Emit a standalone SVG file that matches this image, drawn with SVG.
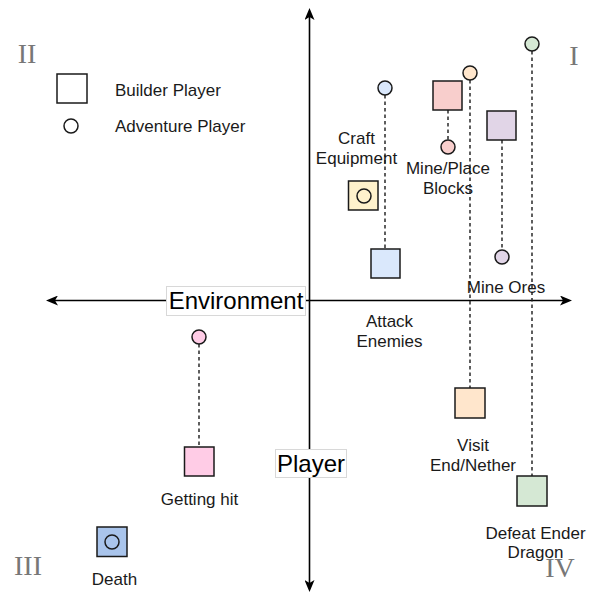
<svg xmlns="http://www.w3.org/2000/svg" width="591" height="594" viewBox="0 0 591 594">
<style>
.lbl{font-family:"Liberation Sans",Arial,Helvetica,sans-serif;font-size:17px;fill:#1a1a1a;text-anchor:middle}
.leg{font-family:"Liberation Sans",Arial,Helvetica,sans-serif;font-size:17px;fill:#1a1a1a}
.axl{font-family:"Liberation Sans",Arial,Helvetica,sans-serif;font-size:24px;fill:#000;text-anchor:middle}
.rom{font-family:"Liberation Serif","Times New Roman",serif;font-size:28px;fill:#777;text-anchor:middle}
.nd{stroke:#1a1a1a;stroke-width:1.5}
.dash{stroke:#1a1a1a;stroke-width:1.4;stroke-dasharray:3.5 3;fill:none}
.axis{stroke:#000;stroke-width:1.6;fill:none}
.lbox{fill:#fff;stroke:#d8d8d8;stroke-width:1}
</style>
<defs>
<marker id="arr" viewBox="0 0 12 10" refX="3" refY="5" markerWidth="12" markerHeight="10" markerUnits="userSpaceOnUse" orient="auto-start-reverse">
<path d="M0,0 L12,5 L0,10 L3,5 Z" fill="#000"/>
</marker>
</defs>
<rect width="591" height="594" fill="#fff"/>

<g id="axes">
<line class="axis" x1="55" y1="300.5" x2="563" y2="300.5" marker-start="url(#arr)" marker-end="url(#arr)"/>
<line class="axis" x1="309.5" y1="17" x2="309.5" y2="583" marker-start="url(#arr)" marker-end="url(#arr)"/>
</g>

<g id="quadrants">
<text class="rom" x="27" y="63">II</text>
<text class="rom" x="574" y="65">I</text>
<text class="rom" x="28" y="575">III</text>
<text class="rom" x="560" y="577">IV</text>
</g>

<g id="legend">
<rect class="nd" x="57" y="74" width="30" height="29" fill="#fff"/>
<text class="leg" x="115" y="96">Builder Player</text>
<circle class="nd" cx="71" cy="126" r="7" fill="#fff"/>
<text class="leg" x="115" y="132">Adventure Player</text>
</g>

<g id="connectors">
<line class="dash" x1="385" y1="95" x2="385" y2="249"/>
<line class="dash" x1="448" y1="110" x2="448" y2="140"/>
<line class="dash" x1="470" y1="80" x2="470" y2="388"/>
<line class="dash" x1="502" y1="140" x2="502" y2="250"/>
<line class="dash" x1="532" y1="51" x2="532" y2="476"/>
<line class="dash" x1="199" y1="344" x2="199" y2="447"/>
</g>

<g id="axis-labels">
<g id="environment">
<rect class="lbox" x="166.5" y="286.5" width="139" height="29"/>
<text class="axl" x="236" y="309">Environment</text>
</g>
<g id="player">
<rect class="lbox" x="275.5" y="449.5" width="71" height="28"/>
<text class="axl" x="311" y="472">Player</text>
</g>
</g>

<g id="attack-enemies">
<circle class="nd" cx="385" cy="88" r="7" fill="#dae8fc"/>
<rect class="nd" x="371" y="249" width="29" height="29" fill="#dae8fc"/>
<text class="lbl" x="389.5" y="327">Attack</text>
<text class="lbl" x="389.5" y="347">Enemies</text>
</g>

<g id="mine-place-blocks">
<rect class="nd" x="433" y="81" width="29" height="29" fill="#f8cecc"/>
<circle class="nd" cx="448" cy="147" r="7" fill="#f8cecc"/>
<text class="lbl" x="448" y="174">Mine/Place</text>
<text class="lbl" x="448" y="194">Blocks</text>
</g>

<g id="visit-end-nether">
<circle class="nd" cx="470" cy="73" r="7" fill="#ffe6cc"/>
<rect class="nd" x="455" y="388" width="30" height="30" fill="#ffe6cc"/>
<text class="lbl" x="473" y="450.5">Visit</text>
<text class="lbl" x="473" y="470.5">End/Nether</text>
</g>

<g id="mine-ores">
<rect class="nd" x="487" y="111" width="29" height="29" fill="#e1d5e7"/>
<circle class="nd" cx="502" cy="257" r="7" fill="#e1d5e7"/>
<text class="lbl" x="506" y="293">Mine Ores</text>
</g>

<g id="defeat-ender-dragon">
<circle class="nd" cx="532" cy="44" r="7" fill="#d5e8d4"/>
<rect class="nd" x="517" y="476" width="30" height="30" fill="#d5e8d4"/>
<text class="lbl" x="535.5" y="539">Defeat Ender</text>
<text class="lbl" x="535.5" y="558">Dragon</text>
</g>

<g id="craft-equipment">
<rect class="nd" x="348.5" y="181" width="29.5" height="29" fill="#fff2cc"/>
<circle class="nd" cx="364" cy="196" r="7" fill="none"/>
<text class="lbl" x="356.5" y="144">Craft</text>
<text class="lbl" x="356.5" y="164">Equipment</text>
</g>

<g id="getting-hit">
<circle class="nd" cx="199" cy="337" r="7" fill="#ffcce6"/>
<rect class="nd" x="184.5" y="447" width="29.5" height="29" fill="#ffcce6"/>
<text class="lbl" x="199.5" y="505">Getting hit</text>
</g>

<g id="death">
<rect class="nd" x="97" y="527" width="30" height="29.5" fill="#a9c4eb"/>
<circle class="nd" cx="112" cy="542" r="7" fill="none"/>
<text class="lbl" x="114.5" y="585">Death</text>
</g>
</svg>
